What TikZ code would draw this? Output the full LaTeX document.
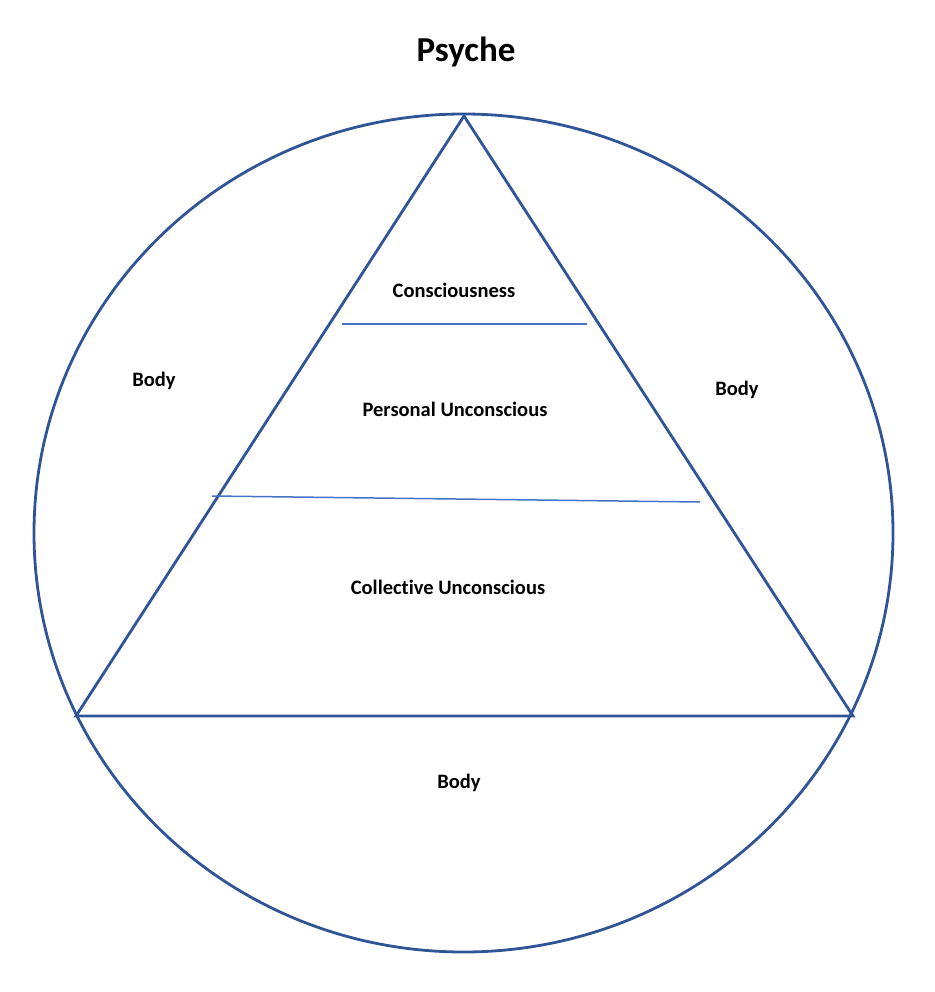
\documentclass[tikz,border=0pt]{standalone}
\usepackage{fontspec}
\setmainfont[Ligatures=NoCommon]{Carlito}
\usepackage{tikz}
\definecolor{psyblue}{HTML}{2F5597}
\definecolor{layerblue}{HTML}{4472C4}
\tikzset{
  outline/.style={line width=2.8pt, psyblue},
  layer/.style={line width=1.5pt, layerblue},
  label/.style={font=\bfseries\fontsize{20.5}{24}\selectfont, inner sep=0pt}
}

\begin{document}
\begin{tikzpicture}[x=1pt,y=-1pt]
\useasboundingbox (0,0) rectangle (934,992);

\node[font=\bfseries\fontsize{35}{42}\selectfont, inner sep=0pt](T) at (466, 52){Psyche};

% body and triangle
\draw[outline] (463.5, 533) ellipse [x radius=429.5, y radius=419];
\draw[outline] (464, 116) -- (853, 716) -- (76, 716) -- cycle;

% layers
\draw[layer] (342, 324) -- (587, 324);
\draw[layer] (212, 496) -- (700, 502);

\node[label](C1) at (454, 290){Consciousness};
\node[label](C2) at (455, 409){Personal Unconscious};
\node[label](C3) at (448, 587){Collective Unconscious};

\node[label](B1) at (154, 381){Body};
\node[label](B2) at (737, 390){Body};
\node[label](B3) at (459, 783){Body};

\end{tikzpicture}
\end{document}
